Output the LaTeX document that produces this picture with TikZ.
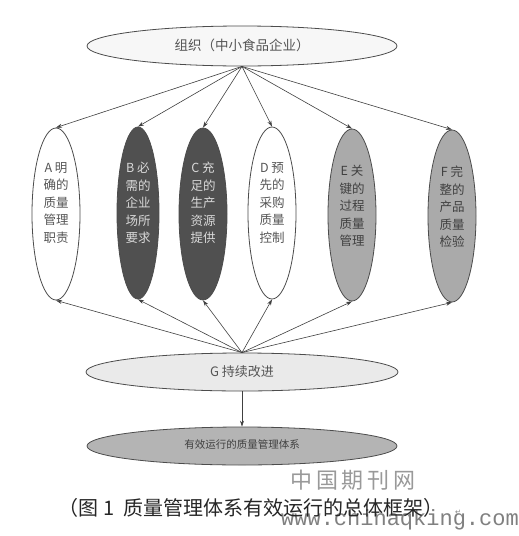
\documentclass[tikz,border=0pt]{standalone}
\usepackage{fontspec}
\usetikzlibrary{shapes.geometric,arrows.meta}
\newfontfamily\cjk{Noto Sans CJK SC}
\newfontfamily\monof{Liberation Mono}
\newfontfamily\djv{DejaVu Sans}
\definecolor{darkfill}{HTML}{505050}
\definecolor{midfill}{HTML}{AAAAAA}
\definecolor{lightfill}{HTML}{EAEAEA}
\definecolor{botfill}{HTML}{B4B4B4}
\definecolor{txtgray}{HTML}{555555}
\begin{document}
\begin{tikzpicture}[x=1pt,y=-1pt,
  oval/.style={ellipse, draw=black!70, line width=0.8pt, inner sep=0pt},
  vert/.style={oval, minimum width=48pt, minimum height=172pt},
  arr/.style={-{Stealth[length=6pt,width=4pt]}, draw=black!75, line width=0.6pt},
  lbl/.style={font=\cjk\fontsize{12.5}{17.5}\selectfont, align=center, text=txtgray},
  dlbl/.style={lbl, text=black!15}]
\useasboundingbox (0,0) rectangle (519,536);
\fill[white] (0,0) rectangle (519,536);

\node[oval, fill=white!97!black, minimum width=310pt, minimum height=40pt] (top) at (242,46) {};
\node[lbl, font=\cjk\fontsize{13.5}{16}\selectfont] (toptxt) at (242,45) {组织（中小食品企业）};

\node[vert, fill=white] (A) at (56,214) {};
\node[vert, fill=darkfill, minimum width=42pt] (B) at (138,213) {};
\node[vert, fill=darkfill] (C) at (203,214) {};
\node[vert, fill=white] (D) at (272,213) {};
\node[vert, fill=midfill] (E) at (352,215) {};
\node[vert, fill=midfill] (F) at (452,216) {};

\node[lbl] (At) at (56,203) {A 明\\确的\\质量\\管理\\职责};
\node[dlbl] (Bt) at (138,203) {B 必\\需的\\企业\\场所\\要求};
\node[dlbl] (Ct) at (203,203) {C 充\\足的\\生产\\资源\\提供};
\node[lbl] (Dt) at (272,203) {D 预\\先的\\采购\\质量\\控制};
\node[lbl, text=black!75] (Et) at (352,206) {E 关\\键的\\过程\\质量\\管理};
\node[lbl, text=black!75] (Ft) at (452,207) {F 完\\整的\\产品\\质量\\检验};

\node[oval, fill=lightfill, minimum width=312pt, minimum height=38pt] (G) at (242,372) {};
\node[lbl, font=\cjk\fontsize{13}{16}\selectfont] (Gt) at (242,372) {G 持续改进};

\node[oval, fill=botfill, minimum width=310pt, minimum height=38pt] (S) at (242,446) {};
\node[lbl, font=\cjk\fontsize{10.5}{12}\selectfont, text=black!75] (St) at (242,445) {有效运行的质量管理体系};

\foreach \n in {A,B,C,D,E,F}{
  \draw[arr] (top.south) -- (\n.north);
  \draw[arr] (G.north) -- (\n.south);
}
\draw[arr] (G.south) -- (S.north);

\node[font=\cjk\fontsize{22}{24}\selectfont, text=black!40] (wm1) at (353,480) {中\,国\,期\,刊\,网};
\node[font=\monof\fontsize{22}{24}\selectfont, text=black!50] (wm2) at (400,520) {www.chinaqking.com};
\node[font=\cjk\fontsize{20}{22}\selectfont, text=black!85] (cap) at (251,508) {（图 1\ \ 质量管理体系有效运行的总体框架）};
\node[font=\djv\fontsize{7}{8}\selectfont, text=black!50] (ret) at (458,512) {↵};
\end{tikzpicture}
\end{document}
